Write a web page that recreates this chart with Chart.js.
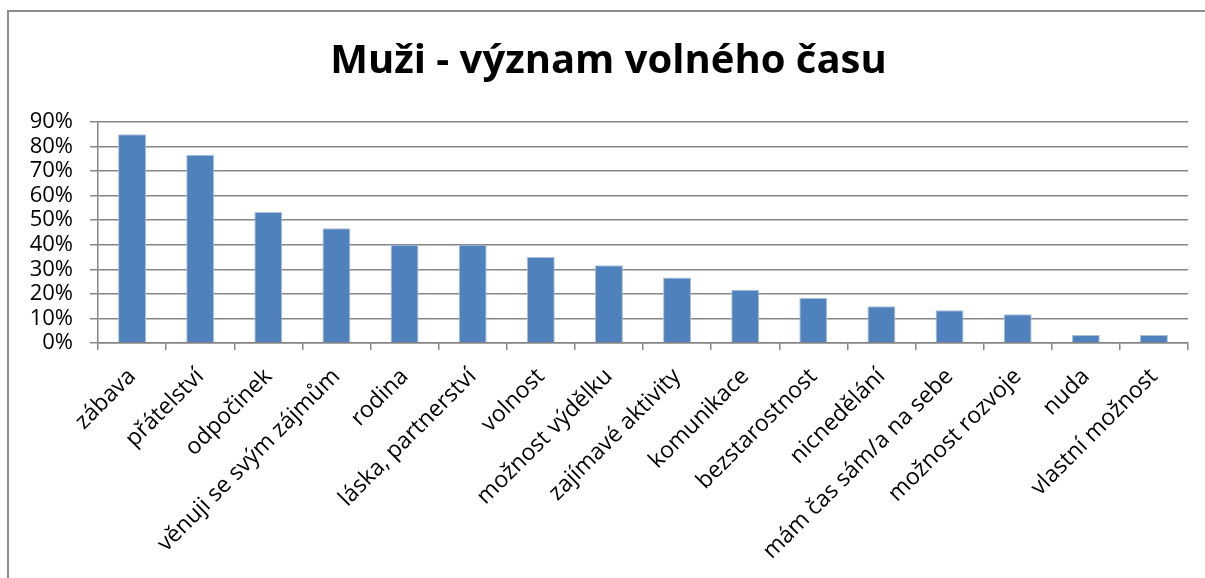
<!DOCTYPE html>
<html lang="cs">
<head>
    <meta charset="UTF-8">
    <title>Muži - význam volného času</title>
    <style>
        body { margin: 0; background: #fff; overflow: hidden; }
        #frame {
            position: absolute; left: 7px; top: 10px;
            width: 1210px; height: 580px;
            border-left: 2px solid #8c8c8c; border-top: 2px solid #8c8c8c;
        }
        #wrap { position: absolute; left: 2px; top: 0; width: 1196px; height: 566px; }
    </style>
</head>
<body>
    <div id="frame"><div id="wrap"><canvas id="myChart"></canvas></div></div>

    <script src="https://cdn.jsdelivr.net/npm/chart.js"></script>
    <script>
        // kategorie a hodnoty (v %)
        const categories = ['zábava', 'přátelství', 'odpočinek', 'věnuji se svým zájmům', 'rodina',
            'láska, partnerství', 'volnost', 'možnost výdělku', 'zajímavé aktivity', 'komunikace',
            'bezstarostnost', 'nicnedělání', 'mám čas sám/a na sebe', 'možnost rozvoje', 'nuda', 'vlastní možnost'];
        const values = [85, 76.7, 53.3, 46.7, 40, 40, 35, 31.7, 26.7, 21.7, 18.3, 15, 13.3, 11.7, 3.3, 3.3];
        const yTicks = [0, 10, 20, 30, 40, 50, 60, 70, 80, 90];

        const font = "'Open Sans', sans-serif";
        const ctx = document.getElementById('myChart').getContext('2d');
        new Chart(ctx, {
            type: 'bar',
            data: {
                labels: categories,
                datasets: [{
                    data: values,
                    backgroundColor: '#4f81bd',
                    borderColor: '#a9c1df',
                    borderWidth: 1,
                    categoryPercentage: 1,
                    barPercentage: 0.41
                }]
            },
            options: {
                responsive: true,
                maintainAspectRatio: false,
                animation: false,
                // levý okraj posouvá střed nadpisu, osa y je pak užší
                layout: { padding: { top: 10, right: 19, left: 18, bottom: 0 } },
                plugins: {
                    legend: { display: false },
                    tooltip: { enabled: false },
                    title: {
                        display: true,
                        text: 'Muži - význam volného času',
                        color: '#000',
                        font: { family: font, size: 40, weight: 'bold', lineHeight: 1.2 },
                        padding: { top: 16, bottom: 36 }
                    }
                },
                scales: {
                    x: {
                        grid: { display: true, drawOnChartArea: false, drawTicks: true, tickLength: 7, color: '#868686', lineWidth: 1.5, offset: true },
                        border: { color: '#868686', width: 1.5 },
                        ticks: {
                            color: '#000',
                            font: { family: font, size: 23 },
                            minRotation: 45, maxRotation: 45,
                            autoSkip: false, padding: 13
                        },
                        afterFit: function(axis) { axis.height = 235; }
                    },
                    y: {
                        min: 0, max: 90,
                        afterBuildTicks: function(axis) { axis.ticks = yTicks.map(v => ({ value: v })); },
                        grid: { color: '#868686', lineWidth: 1.5, tickLength: 8 },
                        border: { color: '#868686', width: 1.5 },
                        ticks: {
                            color: '#000',
                            font: { family: font, size: 22 },
                            padding: 17,
                            autoSkip: false,
                            callback: v => v + '%'
                        },
                        afterFit: function(axis) { axis.width = 69; }
                    }
                }
            }
        });
    </script>
</body>
</html>
